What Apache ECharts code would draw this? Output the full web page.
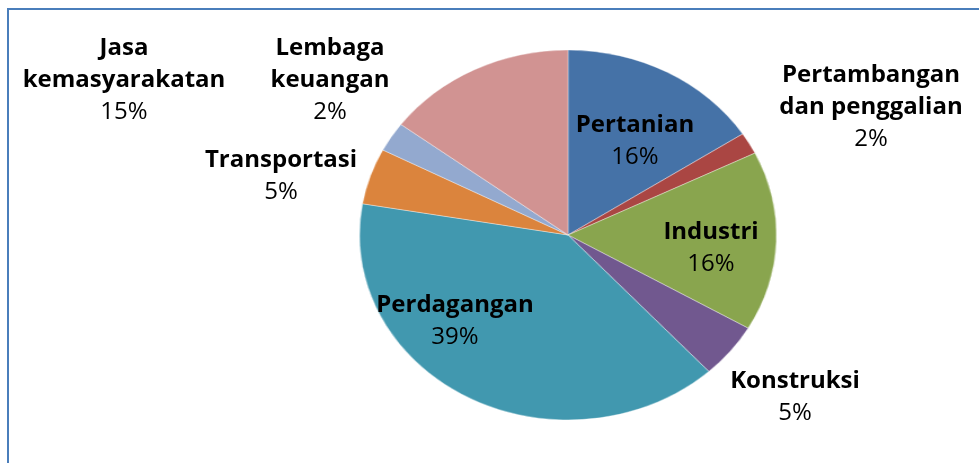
<!DOCTYPE html>
<html>
<head>
<meta charset="utf-8">
<script src="https://cdn.jsdelivr.net/npm/echarts@6/dist/echarts.min.js"></script>
<style>
  html, body { margin: 0; padding: 0; background: #fff; }
  #wrap { position: relative; width: 979px; height: 463px; overflow: hidden; }
  #pieChart, #labelChart { position: absolute; left: 0; top: 0; width: 979px; height: 463px; }
  /* excel pie is an ellipse: stretch the slices layer only */
  #pieChart { transform: scaleX(1.127); transform-origin: 568px 235px; }
</style>
</head>
<body>
<div id="wrap">
  <div id="pieChart"></div>
  <div id="labelChart"></div>
</div>
<script>
  const sectors = ['Pertanian', 'Pertambangan\ndan penggalian', 'Industri', 'Konstruksi',
    'Perdagangan', 'Transportasi', 'Lembaga\nkeuangan', 'Jasa\nkemasyarakatan'];
  const shares = [15.8, 1.9, 15.7, 4.8, 39.5, 4.9, 2.6, 14.8];
  const colors = ['#4572a7', '#aa4643', '#89a54e', '#71588f', '#4198af', '#db843d', '#93a9cf', '#d19392'];

  // where excel put each label (centre of the text block)
  const labelPos = [[635, 141], [871, 107], [711, 248], [795, 397],
    [455, 321], [281, 176], [330, 80], [124, 80]];

  const center = [568, 235];
  const radius = 185;

  const pieData = sectors.map((name, i) => ({value: shares[i], name: name}));

  echarts.init(document.getElementById('pieChart')).setOption({
    animation: false,
    color: colors,
    series: [{
      type: 'pie',
      center: center,
      radius: radius,
      startAngle: 90,
      label: {show: false},
      labelLine: {show: false},
      itemStyle: {borderColor: 'rgba(255,255,255,0.6)', borderWidth: 0.6},
      data: pieData
    }]
  });

  echarts.init(document.getElementById('labelChart')).setOption({
    animation: false,
    graphic: [{
      type: 'polyline',
      shape: {points: [[8, 470], [8, 9], [990, 9]]},
      style: {stroke: '#4a7ebb', lineWidth: 2, fill: null}
    }],
    series: [{
      type: 'pie',
      center: center,
      radius: radius,
      startAngle: 90,
      silent: true,
      avoidLabelOverlap: false,
      percentPrecision: 0,
      itemStyle: {color: 'rgba(0,0,0,0)'},
      labelLine: {show: false},
      label: {
        show: true,
        position: 'inside',
        formatter: '{b|{b}}\n{p|{d}%}',
        rich: {
          b: {fontFamily: 'Open Sans', fontWeight: 'bold', fontSize: 24, lineHeight: 32, color: '#000', align: 'center'},
          p: {fontFamily: 'Open Sans', fontSize: 24, lineHeight: 32, color: '#000', align: 'center'}
        }
      },
      labelLayout: function (params) {
        const p = labelPos[params.dataIndex];
        return {x: p[0], y: p[1], align: 'center', verticalAlign: 'middle'};
      },
      data: pieData
    }]
  });
</script>
</body>
</html>
